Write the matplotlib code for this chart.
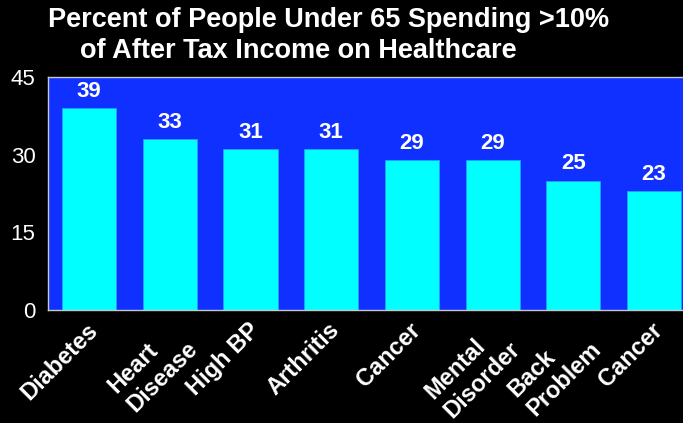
import matplotlib
matplotlib.use('Agg')
from matplotlib import pyplot as plt
from matplotlib import transforms
import numpy as np

# chart data
conditions = ['Diabetes', 'Heart\nDisease', 'High BP', 'Arthritis', 'Cancer',
              'Mental\nDisorder', 'Back\nProblem', 'Cancer']
percent = [39, 33, 31, 31, 29, 29, 25, 23]
yticks = [0, 15, 30, 45]

title_line1 = 'Percent of People Under 65 Spending >10%'
title_line2 = 'of After Tax Income on Healthcare'

bg_blue = '#1030ff'
bar_cyan = '#00ffff'

plt.rcParams['font.family'] = ['Liberation Sans', 'DejaVu Sans']

fig = plt.figure(figsize=(6.83, 4.23), dpi=100, facecolor='black')
W, H = 683.0, 423.0
ax = fig.add_axes([48 / W, 1 - 310 / H, (683 - 48) / W, (310 - 77) / H])
ax.set_facecolor(bg_blue)

x = np.arange(len(percent))
bars = ax.bar(x, percent, width=0.67, color=bar_cyan, edgecolor='#20a0ff',
              linewidth=0.6, zorder=2)

# value labels over the bars
for xi, v in zip(x, percent):
    ax.text(xi, v + 1.2, str(v), ha='center', va='bottom', color='white',
            fontsize=16, fontweight='bold')

ax.set_xlim(-0.51, 7.36)
ax.set_ylim(0, 45)
ax.set_yticks(yticks)
ax.set_yticklabels([str(t) for t in yticks], color='white', fontsize=16)
ax.tick_params(axis='y', length=0, pad=9)
ax.tick_params(axis='x', length=0, pad=6)
ax.set_xticks(x)
ax.set_xticklabels(conditions, rotation=45, ha='right', va='top',
                   rotation_mode='anchor', multialignment='left',
                   color='white', fontsize=17, fontweight='bold')
# nudge the slanted labels a little to the left
shift = transforms.ScaledTranslation(-3 / 100, 0, fig.dpi_scale_trans)
for lbl in ax.get_xticklabels():
    lbl.set_transform(lbl.get_transform() + shift)

for side in ['left', 'top', 'bottom']:
    ax.spines[side].set_color('#c8c8c8')
    ax.spines[side].set_linewidth(1.0)
ax.spines['right'].set_visible(False)

# two-line heading, second line indented
fig.text(48 / W, 1 - 27 / H, title_line1, ha='left', va='baseline',
         color='white', fontsize=19.5, fontweight='bold')
fig.text(80 / W, 1 - 58 / H, title_line2, ha='left', va='baseline',
         color='white', fontsize=19.5, fontweight='bold')

fig.savefig('out.png', dpi=100, facecolor='black')
